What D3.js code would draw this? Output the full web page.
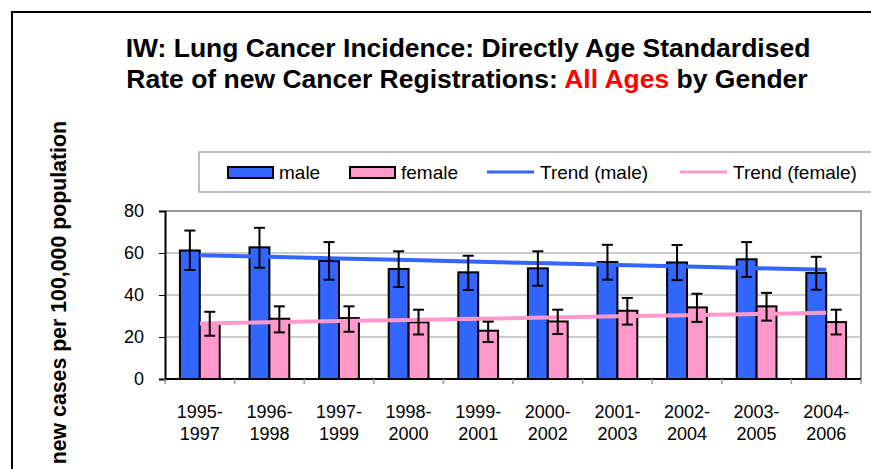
<html>

<head>
    <style>
        body { margin: 0; background: #FFFFFF; }
        svg text { font-family: Arial, "Liberation Sans", sans-serif; fill: #000000; }
    </style>
</head>

<body>
    <svg id="container" height="469" width="871"></svg>
</body>

<script src="https://cdn.jsdelivr.net/npm/d3@7"></script>
<script>
    // chart values
    let periods = ["1995-1997", "1996-1998", "1997-1999", "1998-2000", "1999-2001",
                   "2000-2002", "2001-2003", "2002-2004", "2003-2005", "2004-2006"]
    let maleRate   = [61.2, 62.7, 56.2, 52.4, 50.8, 52.7, 55.7, 55.5, 57.0, 50.5]
    let maleLow    = [51.9, 53.0, 47.3, 43.8, 42.4, 44.4, 47.3, 47.1, 48.6, 42.5]
    let maleHigh   = [70.7, 72.0, 65.2, 60.8, 58.7, 60.8, 63.9, 63.8, 65.2, 58.2]
    let femaleRate = [26.5, 28.7, 29.0, 27.0, 23.0, 27.4, 32.5, 34.1, 34.6, 27.1]
    let femaleLow  = [20.6, 22.2, 22.5, 21.2, 17.6, 21.4, 25.9, 27.2, 27.8, 21.2]
    let femaleHigh = [32.0, 34.6, 34.6, 33.0, 27.3, 33.0, 38.6, 40.6, 41.0, 33.0]
    let yTicks = [0, 20, 40, 60, 80]
    let legendLabels = ["male", "female", "Trend (male)", "Trend (female)"]

    let blue = "#3366FF"
    let pink = "#FF99CC"

    let svg = d3.select("#container")

    // outer chart frame (runs off the right and bottom of the picture)
    svg.append("rect")
        .attr("x", 12).attr("y", 12)
        .attr("width", 900).attr("height", 500)
        .attr("fill", "none")
        .attr("stroke", "#000")
        .attr("stroke-width", 2)

    // title
    svg.append("text")
        .attr("x", 468).attr("y", 57)
        .attr("text-anchor", "middle")
        .style("font-size", "26.5px").style("font-weight", "bold")
        .text("IW: Lung Cancer Incidence: Directly Age Standardised")
    let t2 = svg.append("text")
        .attr("x", 467).attr("y", 88)
        .attr("text-anchor", "middle")
        .style("font-size", "26.5px").style("font-weight", "bold")
    t2.append("tspan").text("Rate of new Cancer Registrations: ")
    t2.append("tspan").style("fill", "#FF0000").text("All Ages")
    t2.append("tspan").text(" by Gender")

    // y axis title
    svg.append("text")
        .attr("transform", "translate(66,121) rotate(-90)")
        .attr("text-anchor", "end")
        .style("font-size", "21.3px").style("font-weight", "bold")
        .text("new cases per 100,000 population")

    let x = d3.scaleBand()
        .domain(periods)
        .range([165, 861])

    let pairWidth = x.bandwidth() * 2 / 3.5   // excel gap width 150%
    let xs = d3.scaleBand()
        .domain(["male", "female"])
        .range([(x.bandwidth() - pairWidth) / 2, (x.bandwidth() + pairWidth) / 2])

    let y = d3.scaleLinear()
        .domain([0, 80])
        .range([379, 211])

    // gridlines
    svg.append("g")
        .selectAll("line")
        .data(yTicks.filter(d => d > 0 && d < 80))
        .enter()
        .append("line")
        .attr("x1", 165).attr("x2", 861)
        .attr("y1", d => y(d)).attr("y2", d => y(d))
        .attr("stroke", "#999999")
        .attr("stroke-width", 1)

    // plot border top & right
    svg.append("path")
        .attr("d", `M165,${y(80)}H861V${y(0)}`)
        .attr("fill", "none")
        .attr("stroke", "#999999")
        .attr("stroke-width", 2)

    // y axis
    let yAxis = svg.append("g")
        .attr("transform", "translate(165,0)")
        .call(d3.axisLeft(y).tickValues(yTicks).tickSize(6).tickPadding(15))
    yAxis.select(".domain").attr("stroke", "#000").attr("stroke-width", 2)
    yAxis.selectAll(".tick line").attr("stroke", "#000")
    yAxis.selectAll("text").style("font-size", "18px").attr("fill", "#000")
        .attr("font-family", "Arial, 'Liberation Sans', sans-serif")

    // x axis line and tick marks at category boundaries
    let bounds = periods.map(p => x(p)).concat([x.range()[1]])
    svg.append("line")
        .attr("x1", 165).attr("x2", 861)
        .attr("y1", y(0)).attr("y2", y(0))
        .attr("stroke", "#000").attr("stroke-width", 2)
    svg.append("g")
        .selectAll("line")
        .data(bounds)
        .enter()
        .append("line")
        .attr("x1", d => d).attr("x2", d => d)
        .attr("y1", y(0)).attr("y2", y(0) + 5)
        .attr("stroke", "#999999").attr("stroke-width", 1.5)

    let xLabels = svg.append("g")
        .selectAll("text")
        .data(periods)
        .enter()
        .append("text")
        .attr("text-anchor", "middle")
        .style("font-size", "18px")
    xLabels.append("tspan")
        .attr("x", d => x(d) + x.bandwidth() / 2).attr("y", 418)
        .text(d => d.split("-")[0] + "-")
    xLabels.append("tspan")
        .attr("x", d => x(d) + x.bandwidth() / 2).attr("y", 440)
        .text(d => d.split("-")[1])

    // bars
    let series = [
        { key: "male", color: blue, rate: maleRate, low: maleLow, high: maleHigh },
        { key: "female", color: pink, rate: femaleRate, low: femaleLow, high: femaleHigh }
    ]

    series.forEach(s => {
        svg.append("g")
            .selectAll("rect")
            .data(periods)
            .enter()
            .append("rect")
            .attr("x", d => x(d) + xs(s.key))
            .attr("width", xs.bandwidth())
            .attr("y", (d, i) => y(s.rate[i]))
            .attr("height", (d, i) => y(0) - y(s.rate[i]))
            .attr("fill", s.color)
            .attr("stroke", "#000")
            .attr("stroke-width", 2)
    })

    // linear trend lines (least squares over the bars, like excel)
    function trend(values) {
        let n = values.length
        let mx = (n - 1) / 2
        let my = d3.mean(values)
        let sxy = d3.sum(values, (v, i) => (i - mx) * (v - my))
        let sxx = d3.sum(values, (v, i) => (i - mx) * (i - mx))
        let b = sxy / sxx
        return values.map((v, i) => my + b * (i - mx))
    }

    let trendLine = d3.line()
        .x((d, i) => x(periods[i]) + x.bandwidth() / 2)
        .y(d => y(d))

    series.forEach(s => {
        svg.append("path")
            .datum(trend(s.rate))
            .attr("d", trendLine)
            .attr("fill", "none")
            .attr("stroke", s.color)
            .attr("stroke-width", 4)
    })

    // error bars
    series.forEach(s => {
        let g = svg.append("g")
            .selectAll("g")
            .data(periods)
            .enter()
            .append("g")
            .attr("transform", d => `translate(${x(d) + xs(s.key) + xs.bandwidth() / 2},0)`)
            .attr("stroke", "#000")
            .attr("stroke-width", 2)
        g.append("line")
            .attr("y1", (d, i) => y(s.low[i])).attr("y2", (d, i) => y(s.high[i]))
        g.append("line")
            .attr("x1", -5.5).attr("x2", 5.5)
            .attr("y1", (d, i) => y(s.low[i])).attr("y2", (d, i) => y(s.low[i]))
        g.append("line")
            .attr("x1", -5.5).attr("x2", 5.5)
            .attr("y1", (d, i) => y(s.high[i])).attr("y2", (d, i) => y(s.high[i]))
    })

    // legend
    let legend = svg.append("g")
    legend.append("rect")
        .attr("x", 199).attr("y", 152)
        .attr("width", 690).attr("height", 40)
        .attr("fill", "#fff")
        .attr("stroke", "#aaaaaa")
        .attr("stroke-width", 1.5)

    let keyX = [228, 350, 487, 680]
    let keys = legend.selectAll(".key")
        .data(legendLabels)
        .enter()
        .append("g")
        .attr("transform", (d, i) => `translate(${keyX[i]},172)`)

    keys.filter((d, i) => i < 2)
        .append("rect")
        .attr("x", 0).attr("y", -5)
        .attr("width", 45).attr("height", 11)
        .attr("fill", (d, i) => series[i].color)
        .attr("stroke", "#000").attr("stroke-width", 2)

    keys.filter((d, i) => i >= 2)
        .append("line")
        .attr("x1", 0).attr("x2", 47)
        .attr("stroke", (d, i) => series[i].color)
        .attr("stroke-width", 3)

    keys.append("text")
        .attr("x", (d, i) => i < 2 ? 51 : 53)
        .attr("y", 7)
        .style("font-size", "19px")
        .text(d => d)

</script>

</html>
